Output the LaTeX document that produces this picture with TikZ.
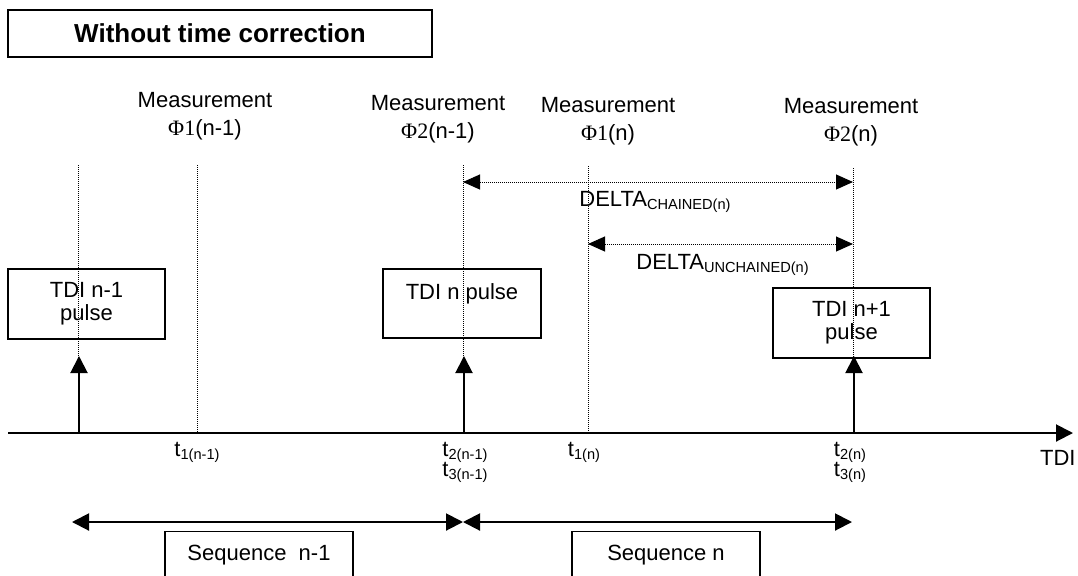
\documentclass[tikz,border=0pt]{standalone}
\usepackage{fontspec}
\setmainfont{Liberation Sans}
\newfontfamily\phifont{Liberation Serif}
\usetikzlibrary{arrows.meta,positioning}

\newcommand{\lowtxt}[1]{\raisebox{-1.5pt}{\fontsize{7.3}{8}\selectfont #1}}
\tikzset{
  Tp/.tip={Triangle[length=8.5pt,width=8.5pt]},
  Ts/.tip={Triangle[length=8.5pt,width=7.5pt]},
  box/.style={draw,line width=0.7pt,align=center,inner sep=0pt,font=\fontsize{11}{11.5}\selectfont},
  guide/.style={line width=0.5pt,dash pattern=on 0.5pt off 0.5pt},
  span/.style={guide,Ts-Ts},
  pulse/.style={line width=1pt,-Tp},
  seq/.style={line width=1pt,Tp-Tp},
  axis/.style={line width=1pt,-Tp}
}

\begin{document}
\begin{tikzpicture}[x=0.5pt,y=-0.5pt,every node/.style={font=\fontsize{11}{14}\selectfont}]
\useasboundingbox (0,0) rectangle (1078,575);
\clip (0,0) rectangle (1078,575);

\node[box,font=\fontsize{13}{16}\selectfont\bfseries,minimum width=212pt,minimum height=23.5pt] (title) at (220,33.5) {Without time correction};

\node[align=center] (m1) at (205,116) {Measurement\\{\phifont Φ1}(n-1)};
\node[align=center] (m2) at (438,119) {Measurement\\{\phifont Φ2}(n-1)};
\node[align=center] (m3) at (608,121.5) {Measurement\\{\phifont Φ1}(n)};
\node[align=center] (m4) at (851,122) {Measurement\\{\phifont Φ2}(n)};

\node[box,minimum width=78.5pt,minimum height=35pt] (p1) at (86.5,304) {TDI n-1\\pulse};
\node[box,minimum width=79pt,minimum height=34.5pt] (p2) at (462,303.5) {TDI n pulse\\~};
\node[box,minimum width=78.5pt,minimum height=35pt] (p3) at (851.5,323) {TDI n+1\\pulse};

\foreach \X/\Y [count=\i] in {78/165,197/165,463/165,588/166,853/168} {
    \coordinate (up\i) at (\X,\Y);
    \coordinate (ax\i) at (\X,433);
    \draw[guide] (up\i) -- (ax\i);
}

\coordinate (o) at (8,433);
\coordinate (tdi) at (1073,433);
\draw[axis] (o) -- (tdi);
\node[anchor=base east,inner sep=0pt] (tdil) at (1076,465) {TDI};

\foreach \i in {1,3,5} {
    \coordinate (hd\i) at ([xshift=0.5pt]ax\i |- 0,356);
    \draw[pulse] ([xshift=0.5pt]ax\i) -- (hd\i);
}

\coordinate (c1) at (463,182);
\coordinate (c2) at (853,182);
\draw[span] (c1) -- (c2);
\node[anchor=base west,inner sep=0pt] (dc) at (579,206) {DELTA\lowtxt{CHAINED(n)}};
\coordinate (u1) at (588,244);
\coordinate (u2) at (853,244);
\draw[span] (u1) -- (u2);
\node[anchor=base west,inner sep=0pt] (du) at (636,269) {DELTA\lowtxt{UNCHAINED(n)}};

\node[anchor=base] (t1a) at (197,456) {t\lowtxt{1(n-1)}};
\node[anchor=base] (t2a) at (465,456) {t\lowtxt{2(n-1)}};
\node[anchor=base] (t3a) at (465,476) {t\lowtxt{3(n-1)}};
\node[anchor=base] (t1b) at (584,456) {t\lowtxt{1(n)}};
\node[anchor=base] (t2b) at (850,456) {t\lowtxt{2(n)}};
\node[anchor=base] (t3b) at (850,476) {t\lowtxt{3(n)}};

\coordinate (s0) at (72,522);
\coordinate (s1) at (463,522);
\coordinate (s2) at (852,522);
\draw[seq] (s0) -- (s1);
\draw[seq] (s1) -- (s2);

\node[box,anchor=north,minimum width=94pt,text height=14.5pt,text depth=20pt] (q1) at (259,531) {Sequence\ \ n-1};
\node[box,anchor=north,minimum width=94pt,text height=14.5pt,text depth=20pt] (q2) at (666,531) {Sequence n};
\end{tikzpicture}
\end{document}
